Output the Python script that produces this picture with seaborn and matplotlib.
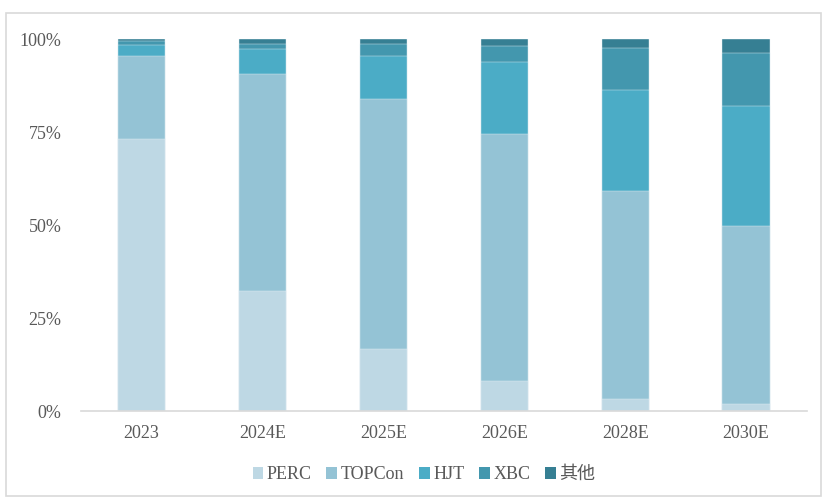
import matplotlib
matplotlib.use("Agg")
import matplotlib.pyplot as plt
from matplotlib.patches import Patch, Rectangle
import numpy as np
import pandas as pd
import seaborn as sns

# Data (market share, %)
years = ["2023", "2024E", "2025E", "2026E", "2028E", "2030E"]
perc = [73.0, 32.3, 16.7, 8.0, 3.2, 1.8]
topcon = [22.5, 58.3, 67.1, 66.5, 55.9, 48.0]
hjt = [3.0, 6.7, 11.7, 19.2, 27.2, 32.2]
xbc = [0.9, 1.4, 3.2, 4.4, 11.4, 14.2]
other = [0.6, 1.3, 1.3, 1.9, 2.3, 3.8]

series_names = ["PERC", "TOPCon", "HJT", "XBC", "其他"]
series_colors = ["#BED8E4", "#94C3D5", "#4BACC6", "#4397AE", "#367F93"]

sns.set_style("white")
plt.rcParams['font.family'] = ['Liberation Serif', 'Noto Sans CJK SC', 'DejaVu Sans']

df = pd.DataFrame({"year": years, "PERC": perc, "TOPCon": topcon,
                   "HJT": hjt, "XBC": xbc, "其他": other})
# cumulative tops, drawn from the tallest down so lower layers sit on top
cum = df[series_names].cumsum(axis=1)

fig = plt.figure(figsize=(8.23, 4.97), dpi=100)
ax = fig.add_axes([0.0984, 0.173, 0.8816, 0.7485])

for name, color in reversed(list(zip(series_names, series_colors))):
    sns.barplot(x=df["year"], y=cum[name], color=color, width=0.39,
                edgecolor="#E4EFF4", linewidth=0.3, ax=ax, saturation=1)

ax.set_ylim(0, 100)
ax.set_xlim(-0.5, 5.5)
ax.set_yticks([0, 25, 50, 75, 100])
ax.set_yticklabels([f"{v}%" for v in [0, 25, 50, 75, 100]])
ax.set_xlabel("")
ax.set_ylabel("")
ax.tick_params(axis="both", length=0, labelsize=13, colors="#595959")
ax.tick_params(axis="y", pad=14)
ax.tick_params(axis="x", pad=10)
for s in ["top", "right", "left"]:
    ax.spines[s].set_visible(False)
ax.spines["bottom"].set_color("#D9D9D9")
ax.spines["bottom"].set_linewidth(1.2)

handles = [Patch(facecolor=c, edgecolor="none") for c in series_colors]
fig.legend(handles, series_names, loc="center", bbox_to_anchor=(0.515, 0.045),
           ncol=5, frameon=False, fontsize=13, labelcolor="#595959",
           handlelength=0.6, handleheight=0.6, handletextpad=0.2,
           columnspacing=0.8)

# light frame around the chart
fig.patches.append(Rectangle((0.007, 0.003), 0.99, 0.97, transform=fig.transFigure,
                             fill=False, edgecolor="#D9D9D9", linewidth=1.2))

fig.savefig("out.png", dpi=100)
